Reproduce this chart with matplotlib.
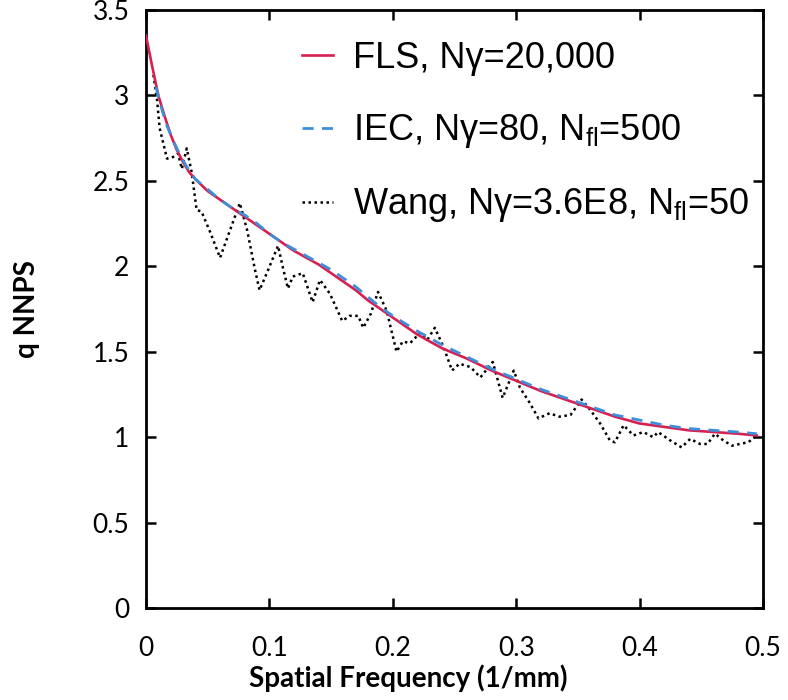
import matplotlib
matplotlib.use('Agg')
import matplotlib.pyplot as plt

# FLS curve (smooth)
fls_freq = [0, 0.005, 0.01, 0.015, 0.02, 0.025, 0.03, 0.035, 0.04, 0.05, 0.06, 0.07,
            0.08, 0.09, 0.10, 0.11, 0.12, 0.13, 0.14, 0.15, 0.16, 0.17, 0.18, 0.19,
            0.20, 0.22, 0.24, 0.26, 0.28, 0.30, 0.32, 0.34, 0.36, 0.38, 0.40, 0.42,
            0.44, 0.46, 0.48, 0.495]
fls_nnps = [3.35, 3.17, 3.00, 2.88, 2.77, 2.68, 2.61, 2.55, 2.51, 2.44, 2.39, 2.34,
            2.29, 2.24, 2.19, 2.14, 2.09, 2.05, 2.01, 1.96, 1.91, 1.86, 1.80, 1.75,
            1.70, 1.60, 1.52, 1.46, 1.39, 1.33, 1.27, 1.22, 1.17, 1.12, 1.08, 1.06,
            1.04, 1.03, 1.02, 1.01]

# IEC curve
iec_freq = [0.008, 0.012, 0.016, 0.02, 0.025, 0.03, 0.035, 0.04, 0.05, 0.06, 0.07,
            0.08, 0.09, 0.10, 0.11, 0.12, 0.13, 0.14, 0.15, 0.16, 0.17, 0.18, 0.19,
            0.20, 0.22, 0.24, 0.26, 0.28, 0.30, 0.32, 0.34, 0.36, 0.38, 0.40, 0.42,
            0.44, 0.46, 0.48, 0.495]
iec_nnps = [3.05, 2.94, 2.84, 2.77, 2.69, 2.62, 2.56, 2.51, 2.45, 2.39, 2.34,
            2.30, 2.25, 2.19, 2.14, 2.10, 2.06, 2.02, 1.98, 1.93, 1.88, 1.82, 1.76,
            1.71, 1.62, 1.54, 1.47, 1.40, 1.34, 1.28, 1.23, 1.18, 1.13, 1.10, 1.07,
            1.05, 1.04, 1.03, 1.02]

# Wang curve (noisy)
wang_freq = [0.006, 0.009, 0.011, 0.017, 0.022, 0.026, 0.029, 0.033, 0.037, 0.041,
             0.045, 0.052, 0.060, 0.067, 0.076, 0.082, 0.088, 0.092, 0.099, 0.107,
             0.111, 0.115, 0.119, 0.127, 0.135, 0.141, 0.149, 0.159, 0.165, 0.172,
             0.176, 0.182, 0.188, 0.195, 0.203, 0.208, 0.214, 0.222, 0.228, 0.234,
             0.241, 0.248, 0.254, 0.263, 0.271, 0.281, 0.289, 0.298, 0.303, 0.311,
             0.318, 0.327, 0.335, 0.344, 0.353, 0.360, 0.368, 0.376, 0.380, 0.387,
             0.395, 0.403, 0.411, 0.415, 0.425, 0.434, 0.441, 0.449, 0.455, 0.461,
             0.468, 0.475, 0.481, 0.488, 0.495]
wang_nnps = [3.12, 2.97, 2.81, 2.63, 2.64, 2.66, 2.57, 2.69, 2.55, 2.33,
             2.32, 2.20, 2.05, 2.19, 2.37, 2.21, 1.99, 1.86, 1.98, 2.12,
             1.99, 1.87, 1.94, 1.96, 1.79, 1.92, 1.84, 1.68, 1.71, 1.71,
             1.64, 1.72, 1.85, 1.74, 1.50, 1.56, 1.55, 1.61, 1.57, 1.64,
             1.53, 1.39, 1.43, 1.41, 1.35, 1.44, 1.23, 1.39, 1.29, 1.20,
             1.11, 1.14, 1.12, 1.13, 1.22, 1.16, 1.08, 0.98, 0.97, 1.07,
             1.01, 1.03, 1.00, 1.03, 0.98, 0.94, 0.99, 0.96, 0.96, 1.02,
             0.98, 0.95, 0.96, 0.97, 1.01]

x_ticks = [0, 0.1, 0.2, 0.3, 0.4, 0.5]
x_ticklabels = ['0', '0.1', '0.2', '0.3', '0.4', '0.5']
y_ticks = [0, 0.5, 1, 1.5, 2, 2.5, 3, 3.5]
y_ticklabels = ['0', '0.5', '1', '1.5', '2', '2.5', '3', '3.5']

plt.rcParams['mathtext.fontset'] = 'custom'
plt.rcParams['mathtext.rm'] = 'Liberation Sans'

fig = plt.figure(figsize=(7.88, 7.0), dpi=100)
ax = fig.add_axes([0.1853, 0.1314, 0.783, 0.8543])

ax.plot(fls_freq, fls_nnps, color='#d62050', lw=1.9, label='FLS, Nγ=20,000', zorder=3)
ax.plot(iec_freq, iec_nnps, color='#3d8fd9', lw=2.0, dashes=(4, 3),
        label=r'IEC, Nγ=80, N$_{\mathrm{fl}}$=500', zorder=4)
ax.plot(wang_freq, wang_nnps, color='black', lw=1.8, linestyle=(0, (1, 1.4)),
        label=r'Wang, Nγ=3.6E8, N$_{\mathrm{fl}}$=50', zorder=2)

ax.set_xlim(0, 0.5)
ax.set_ylim(0, 3.5)
ax.set_xticks(x_ticks)
ax.set_xticklabels(x_ticklabels)
ax.set_yticks(y_ticks)
ax.set_yticklabels(y_ticklabels)

for lab in ax.get_xticklabels() + ax.get_yticklabels():
    lab.set_fontfamily('Lato')
    lab.set_fontsize(19)

ax.tick_params(direction='in', length=7, width=1.8, top=True, right=True)
ax.tick_params(axis='x', pad=20)
ax.tick_params(axis='y', pad=12)
for sp in ax.spines.values():
    sp.set_linewidth(2)

ax.set_xlabel('Spatial Frequency (1/mm)', fontfamily='Lato', fontweight='bold',
              fontsize=20, labelpad=5)
ax.xaxis.set_label_coords(0.425, -0.095)
ax.set_ylabel('q NNPS', fontfamily='Lato', fontweight='bold', fontsize=20, labelpad=38)

leg = ax.legend(loc='upper left', bbox_to_anchor=(0.253, 0.948), frameon=False,
                prop={'family': 'Liberation Sans', 'size': 26},
                borderpad=0, borderaxespad=0, handlelength=0.85,
                handletextpad=0.55, labelspacing=1.0)

fig.savefig('out.png', dpi=100)
